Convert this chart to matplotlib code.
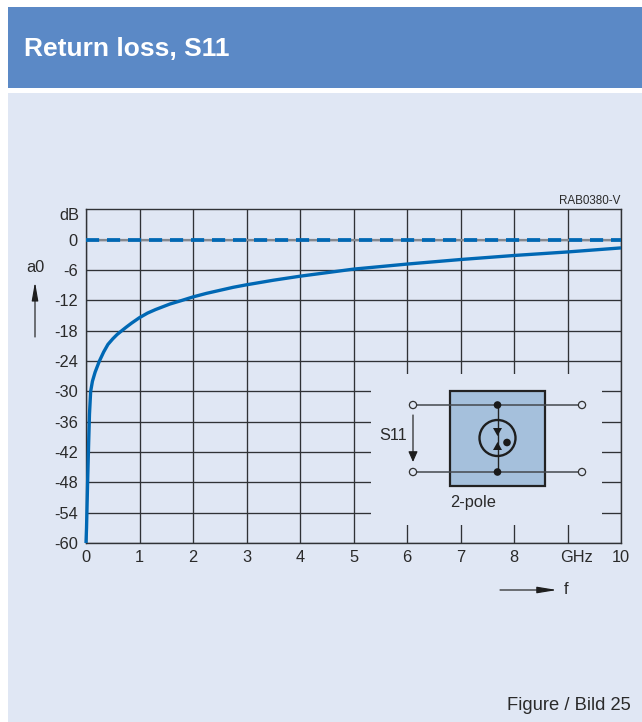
import matplotlib
matplotlib.use("Agg")
import matplotlib.pyplot as plt
from matplotlib.patches import Rectangle, Circle, Polygon
from matplotlib.transforms import ScaledTranslation

plt.rcParams['font.family'] = ['Liberation Sans', 'DejaVu Sans']

freq = [0, 0.01, 0.03, 0.05, 0.065, 0.087, 0.12, 0.17, 0.25, 0.33, 0.41, 0.5, 0.58, 0.667, 0.75, 0.85,
        1, 1.15, 1.3, 1.57, 1.79, 2, 2.25, 2.5, 2.75, 3, 3.5, 4, 4.5, 5, 6, 7, 8, 9, 10]
s11 = [-60, -57, -48, -40, -34.5, -30, -28, -26.2, -24, -22.2, -20.7, -19.6, -18.75, -18, -17.3, -16.5,
       -15.4, -14.5, -13.8, -12.7, -12, -11.3, -10.6, -10, -9.4, -8.9, -8, -7.2, -6.5, -5.8, -4.8, -3.9, -3.1, -2.4, -1.6]
ref_freq = [0, 10]
ref_db = [0, 0]
y_ticks = [0, -6, -12, -18, -24, -30, -36, -42, -48, -54, -60]
y_labels = ['0', '-6', '-12', '-18', '-24', '-30', '-36', '-42', '-48', '-54', '-60']
x_ticks = [0, 1, 2, 3, 4, 5, 6, 7, 8, 9, 10]
x_labels = ['0', '1', '2', '3', '4', '5', '6', '7', '8', 'GHz', '10']

W, H = 642, 722
BG = '#E0E7F4'
HEAD = '#5B89C6'
INK = '#2A2A2A'
GRID = '#303236'
BLUE = '#0068B4'
BOX = '#A5C0DC'
FS = 11.8

fig = plt.figure(figsize=(W / 100, H / 100), dpi=100, facecolor='white')

# page layer in pixel coordinates
pg = fig.add_axes([0, 0, 1, 1], zorder=0)
pg.set_xlim(0, W); pg.set_ylim(H, 0); pg.axis('off')
pg.add_patch(Rectangle((8, 7), W - 8, 81, fc=HEAD, ec='none'))
pg.add_patch(Rectangle((8, 93), W - 8, H - 93, fc=BG, ec='none'))
pg.text(24, 49, 'Return loss, S11', color='white', fontsize=19, fontweight='bold', va='center', ha='left')
pg.text(631, 705, 'Figure / Bild 25', color=INK, fontsize=13.2, va='center', ha='right')
pg.text(620, 200.5, 'RAB0380-V', color=INK, fontsize=8.4, va='center', ha='right')
pg.text(79, 216, 'dB', color=INK, fontsize=FS, va='center', ha='right')
pg.text(35.5, 268, 'a0', color=INK, fontsize=FS, va='center', ha='center')
pg.text(566, 590, 'f', color=INK, fontsize=FS, va='center', ha='center')


def arrow(ax, x0, y0, x1, y1, hl, hw, lw=0.85):
    ax.annotate('', xy=(x1, y1), xytext=(x0, y0),
                arrowprops=dict(arrowstyle=f'-|>,head_length={hl},head_width={hw}', lw=lw, color='#1E1E1E',
                                shrinkA=0, shrinkB=0, mutation_scale=14))


arrow(pg, 35, 337, 35, 282, 0.8, 0.14)
arrow(pg, 500, 590, 557, 590, 0.85, 0.14)

# chart
L, R, T, B = 86, 621, 209, 543
ax = fig.add_axes([L / W, 1 - B / H, (R - L) / W, (B - T) / H], zorder=1)
ax.patch.set_alpha(0)
ax.set_xlim(0, 10)
ax.set_ylim(-60, 6.1)
ax.set_xticks(x_ticks, x_labels)
ax.set_yticks(y_ticks, y_labels)
ax.tick_params(length=0, labelsize=FS, labelcolor=INK)
ax.tick_params(axis='x', pad=5)
ax.tick_params(axis='y', pad=6)
ghz = ax.get_xticklabels()[x_labels.index('GHz')]
ghz.set_transform(ghz.get_transform() + ScaledTranslation(9.5 / 100, 0, fig.dpi_scale_trans))
ax.grid(True, color=GRID, lw=0.95, zorder=1)
ax.set_axisbelow(True)
for s in ax.spines.values():
    s.set_color(GRID); s.set_linewidth(1.0)
ax.plot(ref_freq, ref_db, color='#85898F', lw=1.6, zorder=2, solid_capstyle='butt')
ax.plot(ref_freq, ref_db, color=BLUE, lw=2.7, dashes=(3.5, 2.1), zorder=3, dash_capstyle='butt')
ax.plot(freq, s11, color=BLUE, lw=2.4, zorder=3, clip_on=False, solid_capstyle='butt')

# schematic inset in pixel coordinates
ins = fig.add_axes([0, 0, 1, 1], zorder=2)
ins.set_xlim(0, W); ins.set_ylim(H, 0); ins.axis('off')
ins.add_patch(Rectangle((371, 374), 231, 151, fc=BG, ec='none', zorder=1))
ins.add_patch(Rectangle((450, 391), 95, 95, fc=BOX, ec='#222222', lw=1.6, zorder=2))
for yy in (405, 472):
    ins.plot([417, 578], [yy, yy], color='#44484E', lw=1.1, zorder=3)
    for xx in (413, 582):
        ins.add_patch(Circle((xx, yy), 3.6, fc=BG, ec='#333333', lw=0.9, zorder=4))
    ins.add_patch(Circle((497.5, yy), 3.8, fc='#1A1A1A', ec='none', zorder=4))
ins.plot([497.5, 497.5], [405, 472], color='#222222', lw=1.0, zorder=3)
ins.add_patch(Circle((497.5, 438), 18, fc='none', ec='#1E1E1E', lw=1.7, zorder=4))
ins.add_patch(Circle((507, 442.5), 3.8, fc='#1A1A1A', ec='none', zorder=4))
ins.add_patch(Polygon([(493, 428), (502, 428), (497.5, 436)], fc='#1A1A1A', ec='none', zorder=5))
ins.add_patch(Polygon([(493, 450), (502, 450), (497.5, 442)], fc='#1A1A1A', ec='none', zorder=5))
arrow(ins, 413, 415, 413, 462, 0.45, 0.2)
ins.text(393.5, 435.5, 'S11', color=INK, fontsize=FS, va='center', ha='center', zorder=5)
ins.text(450, 502.5, '2-pole', color=INK, fontsize=FS, va='center', ha='left', zorder=5)

fig.savefig('out.png', dpi=100, facecolor='white')
